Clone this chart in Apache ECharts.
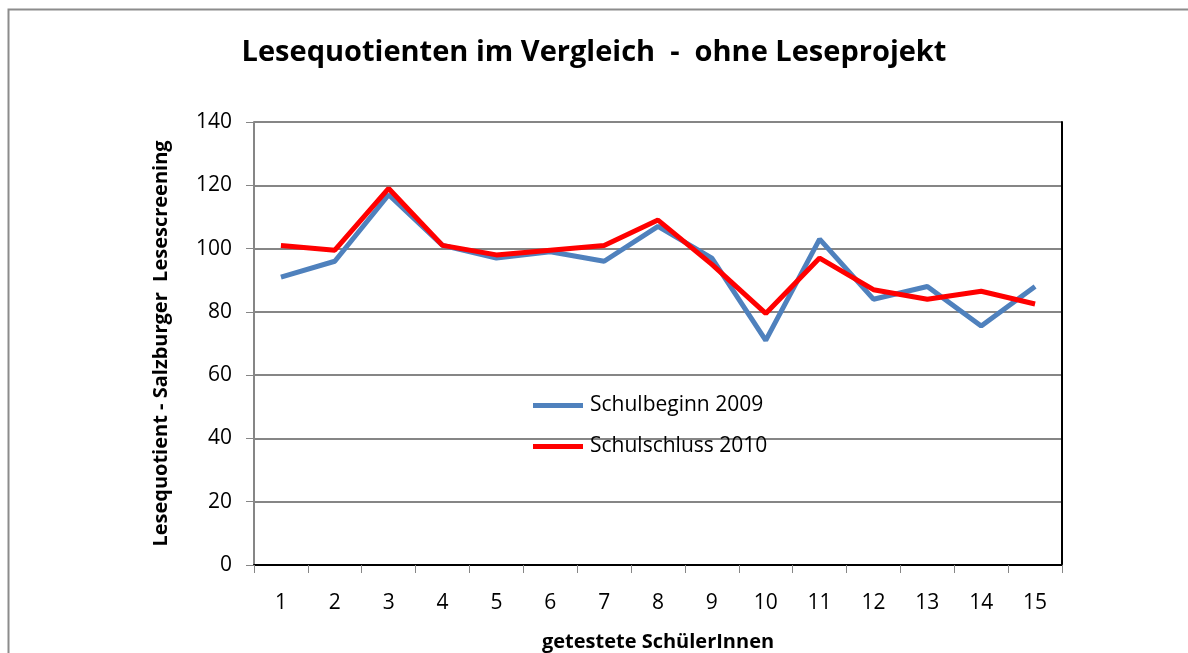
<!DOCTYPE html>
<html>
<head>
<meta charset="utf-8">
<script src="https://cdn.jsdelivr.net/npm/echarts@6/dist/echarts.min.js"></script>
<style>
  html, body { margin: 0; padding: 0; background: #fff; }
  #chart { width: 1188px; height: 653px; }
</style>
</head>
<body>
<div id="chart"></div>
<script>
const students = ['1', '2', '3', '4', '5', '6', '7', '8', '9', '10', '11', '12', '13', '14', '15'];
const schulbeginn2009 = [91, 96, 117, 101, 97, 99, 96, 107, 97, 71, 103, 84, 88, 75.5, 88];
const schulschluss2010 = [101, 99.5, 119, 101, 98, 99.5, 101, 109, 95, 79.5, 97, 87, 84, 86.5, 82.5];

const font = '"Open Sans", "Noto Sans", sans-serif';
const chart = echarts.init(document.getElementById('chart'));

chart.setOption({
  animation: false,
  color: ['#4f81bd', '#ff0000'],
  textStyle: { fontFamily: font, color: '#000' },
  graphic: [{
    type: 'rect',
    left: 6, top: 7,
    shape: { width: 1200, height: 660 },
    style: { fill: 'none', stroke: '#8c8c8c', lineWidth: 2 }
  }],
  title: {
    text: 'Lesequotienten im Vergleich  -  ohne Leseprojekt',
    left: 'center',
    top: 33,
    textStyle: { fontFamily: font, fontSize: 29, fontWeight: 'bold', color: '#000' }
  },
  legend: {
    orient: 'vertical',
    left: 528,
    top: 390,
    itemWidth: 50,
    itemHeight: 5,
    itemGap: 20,
    icon: 'rect',
    textStyle: { fontFamily: font, fontSize: 21, color: '#000', padding: [0, 0, 0, 2] },
    data: ['Schulbeginn 2009', 'Schulschluss 2010']
  },
  grid: { left: 254, right: 126, top: 122, bottom: 88, outerBoundsMode: 'none' },
  xAxis: [{
    type: 'category',
    data: students,
    boundaryGap: true,
    name: 'getestete SchülerInnen',
    nameLocation: 'middle',
    nameGap: 67,
    nameTextStyle: { fontFamily: font, fontSize: 20, fontWeight: 'bold', color: '#000' },
    axisLine: { lineStyle: { color: '#868686', width: 2 } },
    axisTick: { show: true, length: 8, lineStyle: { color: '#868686', width: 1 } },
    axisLabel: { margin: 28, fontSize: 21, color: '#000', fontFamily: font },
    splitLine: { show: false }
  }, {
    type: 'category',
    data: students,
    position: 'top',
    axisLine: { lineStyle: { color: '#000', width: 2 } },
    axisTick: { show: false },
    axisLabel: { show: false }
  }],
  yAxis: [{
    type: 'value',
    min: 0,
    max: 140,
    interval: 20,
    name: 'Lesequotient - Salzburger  Lesescreening',
    nameLocation: 'middle',
    nameGap: 83,
    nameTextStyle: { fontFamily: font, fontSize: 20, fontWeight: 'bold', color: '#000' },
    axisLine: { show: true, lineStyle: { color: '#868686', width: 2 } },
    axisTick: { show: true, length: 8, lineStyle: { color: '#868686', width: 1 } },
    axisLabel: { margin: 22, fontSize: 21, color: '#000', fontFamily: font },
    splitLine: { lineStyle: { color: '#868686', width: 2 } }
  }, {
    type: 'value',
    min: 0,
    max: 140,
    interval: 20,
    position: 'right',
    axisLine: { show: true, lineStyle: { color: '#000', width: 2 } },
    axisTick: { show: false },
    axisLabel: { show: false },
    splitLine: { show: false }
  }],
  series: [{
    name: 'Schulbeginn 2009',
    type: 'line',
    data: schulbeginn2009,
    showSymbol: false,
    lineStyle: { width: 5, color: '#4f81bd' },
    itemStyle: { color: '#4f81bd' }
  }, {
    name: 'Schulschluss 2010',
    type: 'line',
    data: schulschluss2010,
    showSymbol: false,
    lineStyle: { width: 5, color: '#ff0000' },
    itemStyle: { color: '#ff0000' }
  }]
});
</script>
</body>
</html>
